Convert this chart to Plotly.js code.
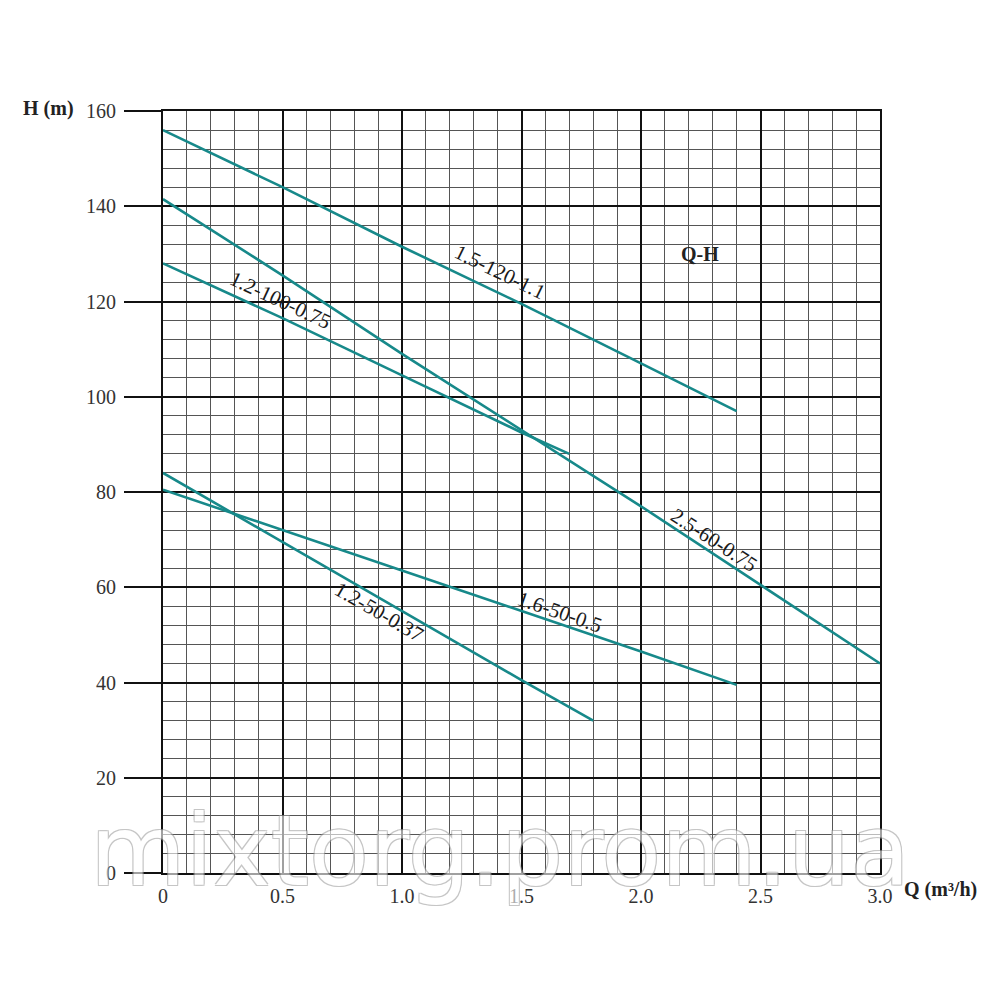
<!DOCTYPE html>
<html>
<head>
<meta charset="utf-8">
<script src="https://cdn.plot.ly/plotly-3.0.1.min.js"></script>
<style>html,body{margin:0;padding:0;background:#fff;}#chart{width:1000px;height:1000px;}</style>
</head>
<body>
<div id="chart"></div>
<script>
// Flow Q (m³/h) and head H (m), one pair of arrays per pump
const q_15_120_11 = [0, 0.5, 1.0, 1.5, 2.0, 2.4];
const h_15_120_11 = [156, 144, 131.5, 119.5, 107, 97];

const q_25_60_075 = [0, 0.5, 1.0, 1.5, 2.0, 2.5, 3.0];
const h_25_60_075 = [141.5, 125.5, 109, 93, 77, 60.5, 44];

const q_12_100_075 = [0, 0.5, 1.0, 1.5, 1.7];
const h_12_100_075 = [128, 116.5, 104.5, 92.5, 88];

const q_16_50_05 = [0, 0.5, 1.0, 1.5, 2.0, 2.4];
const h_16_50_05 = [80.5, 72, 63.5, 55, 46.5, 39.5];

const q_12_50_037 = [0, 0.5, 1.0, 1.5, 1.8];
const h_12_50_037 = [84, 69.5, 55, 40.5, 32];

const seriesNames = ["1.5-120-1.1", "2.5-60-0.75", "1.2-100-0.75", "1.6-50-0.5", "1.2-50-0.37"];

const xTickVals = [0, 0.5, 1.0, 1.5, 2.0, 2.5, 3.0];
const xTickText = ["0", "0.5", "1.0", "1.5", "2.0", "2.5", "3.0"];
const yTickVals = [0, 20, 40, 60, 80, 100, 120, 140, 160];
const yTickText = ["0", "20", "40", "60", "80", "100", "120", "140", "160"];

// label anchors (Q, H) and angles for each curve label
const labelQ = [1.41, 2.305, 0.49, 1.66, 0.905];
const labelH = [126.2, 69.9, 120.3, 54.8, 54.8];
const labelAngle = [26, 33, 25, 19, 30];

const lineColor = "#17898a";
const serif = "Liberation Serif, Times New Roman, serif";

const qs = [q_15_120_11, q_25_60_075, q_12_100_075, q_16_50_05, q_12_50_037];
const hs = [h_15_120_11, h_25_60_075, h_12_100_075, h_16_50_05, h_12_50_037];

const traces = qs.map((q, i) => ({
  x: q, y: hs[i], type: "scatter", mode: "lines", name: seriesNames[i],
  line: {color: lineColor, width: 2.6}, hoverinfo: "skip"
}));

const annotations = [];
// watermark
annotations.push({
  xref: "paper", yref: "paper", x: (500 - 163) / 717, y: (873 - 851) / 762,
  xanchor: "center", yanchor: "middle", showarrow: false,
  text: "mixtorg.prom.ua", opacity: 0.6,
  font: {family: "DejaVu Sans, sans-serif", size: 98, color: "#ffffff",
         shadow: "1px 1px 0 #a0a0a0, -1px -1px 0 #a0a0a0, 1px -1px 0 #a0a0a0, -1px 1px 0 #a0a0a0"}
});
seriesNames.forEach((n, i) => {
  annotations.push({
    x: labelQ[i], y: labelH[i], xref: "x", yref: "y", text: n, showarrow: false,
    textangle: labelAngle[i], xanchor: "center", yanchor: "middle",
    font: {family: serif, size: 21, color: "#1a1a1a"}
  });
});
annotations.push({
  x: 2.247, y: 130, xref: "x", yref: "y", text: "<b>Q-H</b>", showarrow: false,
  font: {family: serif, size: 20, color: "#222"}
});
annotations.push({
  xref: "paper", yref: "paper", x: (48 - 163) / 717, y: (873 - 108) / 762,
  xanchor: "center", yanchor: "middle", text: "<b>H (m)</b>", showarrow: false,
  font: {family: serif, size: 20, color: "#222"}
});
annotations.push({
  xref: "paper", yref: "paper", x: (940 - 163) / 717, y: (873 - 889) / 762,
  xanchor: "center", yanchor: "middle", text: "<b>Q (m³/h)</b>", showarrow: false,
  font: {family: serif, size: 20, color: "#222"}
});

const layout = {
  width: 1000, height: 1000,
  margin: {l: 163, r: 120, t: 111, b: 127, pad: 0},
  paper_bgcolor: "#ffffff", plot_bgcolor: "#ffffff",
  showlegend: false,
  xaxis: {
    range: [0, 3], tickmode: "array", tickvals: xTickVals, ticktext: xTickText,
    ticks: "", ticklabelstandoff: 4,
    showgrid: true, gridcolor: "#111", gridwidth: 2,
    minor: {dtick: 0.1, showgrid: true, gridcolor: "#555", gridwidth: 1, ticks: ""},
    zeroline: false, showline: true, mirror: true, linecolor: "#111", linewidth: 2,
    tickfont: {family: serif, size: 20, color: "#333"}, fixedrange: true
  },
  yaxis: {
    range: [0, 160], tickmode: "array", tickvals: yTickVals, ticktext: yTickText,
    ticks: "outside", ticklen: 37, tickwidth: 2, tickcolor: "#111", ticklabelstandoff: 4,
    showgrid: true, gridcolor: "#111", gridwidth: 2,
    minor: {dtick: 4, showgrid: true, gridcolor: "#555", gridwidth: 1, ticks: ""},
    zeroline: false, showline: true, mirror: true, linecolor: "#111", linewidth: 2,
    tickfont: {family: serif, size: 20, color: "#333"}, fixedrange: true
  },
  annotations: annotations
};

Plotly.newPlot("chart", traces, layout, {staticPlot: true, displayModeBar: false});
</script>
</body>
</html>
